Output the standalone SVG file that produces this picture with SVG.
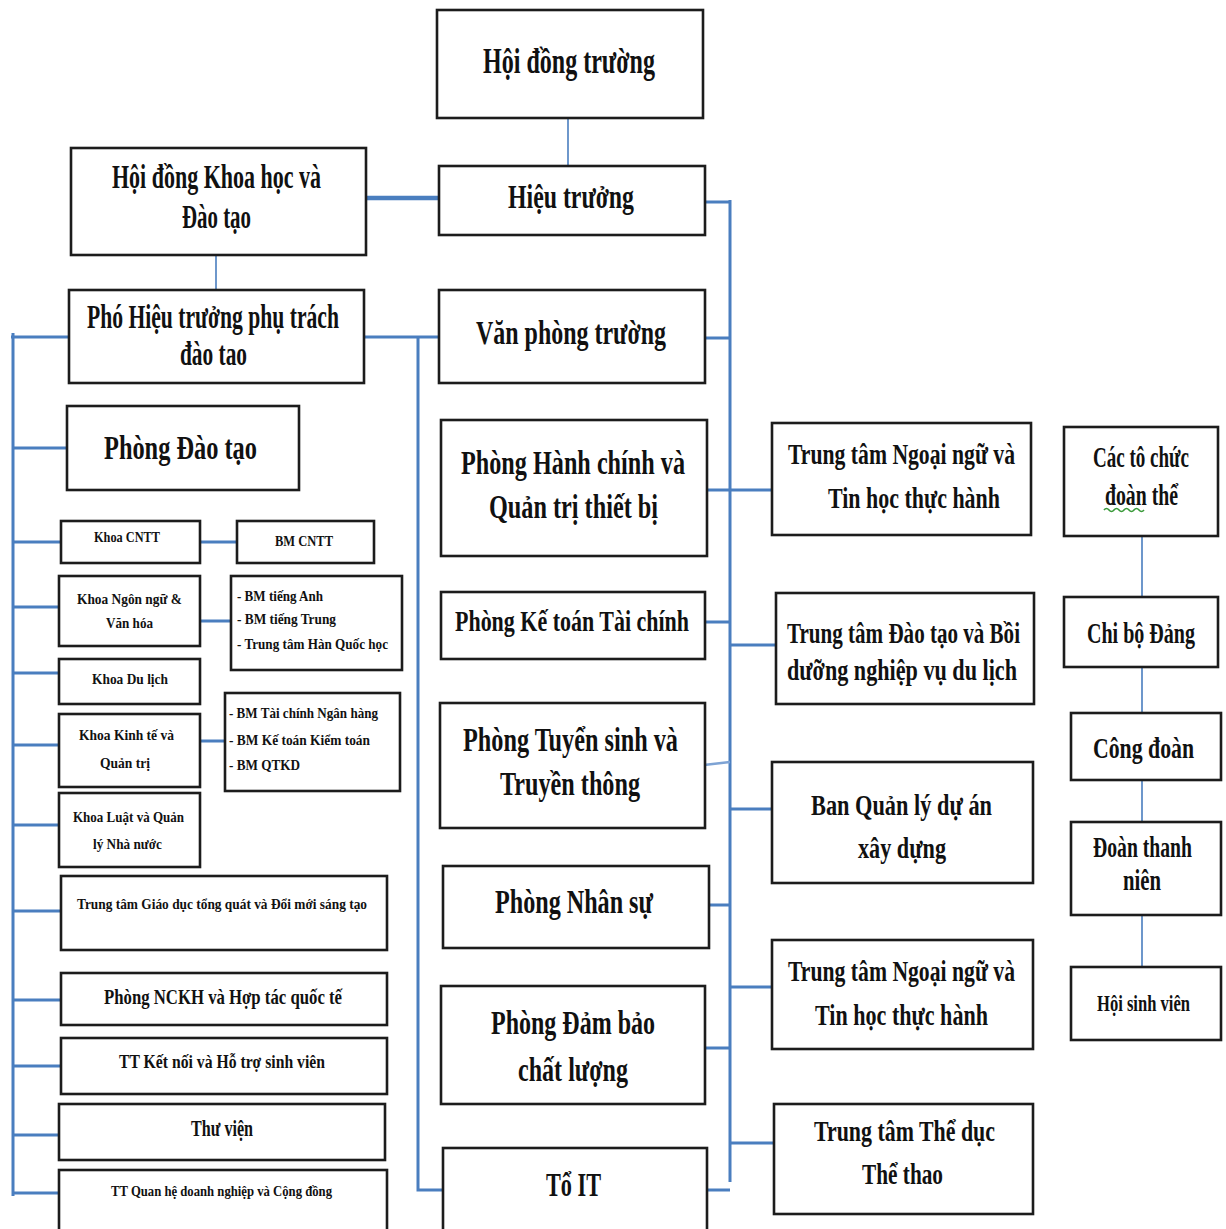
<svg xmlns="http://www.w3.org/2000/svg" width="1226" height="1229" viewBox="0 0 1226 1229">
<style>
.b{fill:#fff;stroke:#1c1c1c;stroke-width:2.6}
.t{font-family:"Liberation Serif","Times New Roman",serif;font-weight:bold;fill:#111}
.X{font-size:24px}
.L{font-size:22.67px}
.M{font-size:20px}
.S{font-size:15px}
.c{fill:none;stroke:#4a7ebf;stroke-width:3;stroke-linecap:butt}
.th{fill:none;stroke:#4a7ebf;stroke-width:1.6}
</style>
<rect width="1226" height="1229" fill="#fff"/>
<g id="connectors">
<line class="th" x1="568" y1="118" x2="568" y2="166"/>
<line class="th" x1="216" y1="255" x2="216" y2="290"/>
<line class="c" x1="362" y1="198" x2="439" y2="198" style="stroke-width:4.5"/>
<path class="c" d="M13 333V1196M11 337H69M13 448H67M13 542H61M13 607H59M13 673H59M13 745H59M13 825H59M13 911H61M13 1000H61M13 1066H61M13 1135H59M13 1193H59"/>
<path class="c" d="M200 542H237M200 621H231M200 741H225"/>
<path class="c" d="M364 337H439M418 337V1190H443"/>
<path class="c" d="M730 200V1182M705 202H730M705 338H730M707 490H772M705 622H730M730 645H776M730 809H772M709 905H730M730 987H772M705 1048H730M730 1143H774M707 1190H730"/>
<path class="c" d="M704 765L730 762" style="stroke:#7ea3d4;stroke-width:2.5"/>
<path class="th" d="M1142 536V597M1142 667V713M1142 780V822M1142 915V967"/>
</g>
<g id="hoi-dong-truong"><rect class="b" x="437" y="10" width="266" height="108"/><text class="t X" transform="translate(483 73) scale(1 1.5)" textLength="172" lengthAdjust="spacingAndGlyphs">Hội đồng trường</text></g>
<g id="hieu-truong"><rect class="b" x="439" y="166" width="266" height="69"/><text class="t L" transform="translate(508 208) scale(1 1.5)" textLength="126" lengthAdjust="spacingAndGlyphs">Hiệu trưởng</text></g>
<g id="hd-khoa-hoc"><rect class="b" x="71" y="148" width="295" height="107"/><text class="t L" transform="translate(112 188) scale(1 1.5)" textLength="209" lengthAdjust="spacingAndGlyphs">Hội đồng Khoa học và</text><text class="t L" transform="translate(182 228) scale(1 1.5)" textLength="69" lengthAdjust="spacingAndGlyphs">Đào tạo</text></g>
<g id="pho-hieu-truong"><rect class="b" x="69" y="290" width="295" height="93"/><text class="t L" transform="translate(87 328) scale(1 1.5)" textLength="252" lengthAdjust="spacingAndGlyphs">Phó Hiệu trưởng phụ trách</text><text class="t L" transform="translate(180 365) scale(1 1.5)" textLength="67" lengthAdjust="spacingAndGlyphs">đào tao</text></g>
<g id="van-phong"><rect class="b" x="439" y="290" width="266" height="93"/><text class="t L" transform="translate(476 344) scale(1 1.5)" textLength="190" lengthAdjust="spacingAndGlyphs">Văn phòng trường</text></g>
<g id="phong-dao-tao"><rect class="b" x="67" y="406" width="232" height="84"/><text class="t L" transform="translate(104 459) scale(1 1.5)" textLength="153" lengthAdjust="spacingAndGlyphs">Phòng Đào tạo</text></g>
<g id="phong-hanh-chinh"><rect class="b" x="441" y="420" width="266" height="136"/><text class="t L" transform="translate(461 474) scale(1 1.5)" textLength="224" lengthAdjust="spacingAndGlyphs">Phòng Hành chính và</text><text class="t L" transform="translate(489 518) scale(1 1.5)" textLength="169" lengthAdjust="spacingAndGlyphs">Quản trị thiết bị</text></g>
<g id="phong-ke-toan"><rect class="b" x="441" y="592" width="264" height="67"/><text class="t M" transform="translate(455 631) scale(1 1.5)" textLength="234" lengthAdjust="spacingAndGlyphs">Phòng Kế toán Tài chính</text></g>
<g id="phong-tuyen-sinh"><rect class="b" x="440" y="703" width="265" height="125"/><text class="t L" transform="translate(463 751) scale(1 1.5)" textLength="215" lengthAdjust="spacingAndGlyphs">Phòng Tuyển sinh và</text><text class="t L" transform="translate(500 795) scale(1 1.5)" textLength="140" lengthAdjust="spacingAndGlyphs">Truyền thông</text></g>
<g id="phong-nhan-su"><rect class="b" x="443" y="866" width="266" height="82"/><text class="t L" transform="translate(495 913) scale(1 1.5)" textLength="158" lengthAdjust="spacingAndGlyphs">Phòng Nhân sự</text></g>
<g id="phong-dam-bao"><rect class="b" x="441" y="986" width="264" height="118"/><text class="t L" transform="translate(491 1034) scale(1 1.5)" textLength="164" lengthAdjust="spacingAndGlyphs">Phòng Đảm bảo</text><text class="t L" transform="translate(518 1081) scale(1 1.5)" textLength="110" lengthAdjust="spacingAndGlyphs">chất lượng</text></g>
<g id="to-it"><rect class="b" x="443" y="1148" width="264" height="95"/><text class="t L" transform="translate(546 1196) scale(1 1.5)" textLength="55" lengthAdjust="spacingAndGlyphs">Tổ IT</text></g>
<g id="tt-ngoai-ngu-1"><rect class="b" x="772" y="423" width="259" height="112"/><text class="t M" transform="translate(788 464) scale(1 1.5)" textLength="227" lengthAdjust="spacingAndGlyphs">Trung tâm Ngoại ngữ và</text><text class="t M" transform="translate(828 508) scale(1 1.5)" textLength="172" lengthAdjust="spacingAndGlyphs">Tin học thực hành</text></g>
<g id="tt-dao-tao-du-lich"><rect class="b" x="776" y="593" width="258" height="111"/><text class="t M" transform="translate(787 643) scale(1 1.5)" textLength="233" lengthAdjust="spacingAndGlyphs">Trung tâm Đào tạo và Bồi</text><text class="t M" transform="translate(787 680) scale(1 1.5)" textLength="230" lengthAdjust="spacingAndGlyphs">dưỡng nghiệp vụ du lịch</text></g>
<g id="ban-quan-ly"><rect class="b" x="772" y="762" width="261" height="121"/><text class="t M" transform="translate(811 815) scale(1 1.5)" textLength="181" lengthAdjust="spacingAndGlyphs">Ban Quản lý dự án</text><text class="t M" transform="translate(858 858) scale(1 1.5)" textLength="88" lengthAdjust="spacingAndGlyphs">xây dựng</text></g>
<g id="tt-ngoai-ngu-2"><rect class="b" x="772" y="940" width="261" height="109"/><text class="t M" transform="translate(788 981) scale(1 1.5)" textLength="227" lengthAdjust="spacingAndGlyphs">Trung tâm Ngoại ngữ và</text><text class="t M" transform="translate(815 1025) scale(1 1.5)" textLength="173" lengthAdjust="spacingAndGlyphs">Tin học thực hành</text></g>
<g id="tt-the-duc"><rect class="b" x="774" y="1104" width="259" height="110"/><text class="t M" transform="translate(814 1141) scale(1 1.5)" textLength="181" lengthAdjust="spacingAndGlyphs">Trung tâm Thể dục</text><text class="t M" transform="translate(862 1184) scale(1 1.5)" textLength="81" lengthAdjust="spacingAndGlyphs">Thể thao</text></g>
<g id="cac-to-chuc"><rect class="b" x="1064" y="427" width="154" height="109"/><text class="t M" transform="translate(1093 467) scale(1 1.5)" textLength="96" lengthAdjust="spacingAndGlyphs">Các tô chức</text><text class="t M" transform="translate(1105 505) scale(1 1.5)" textLength="73" lengthAdjust="spacingAndGlyphs">đoàn thể</text><path d="M1104 510q2.5-3 5 0t5 0t5 0t5 0t5 0t5 0t5 0t5 0" fill="none" stroke="#3a9a3a" stroke-width="1.6"/></g>
<g id="chi-bo"><rect class="b" x="1064" y="597" width="154" height="70"/><text class="t M" transform="translate(1087 643) scale(1 1.5)" textLength="108" lengthAdjust="spacingAndGlyphs">Chi bộ Đảng</text></g>
<g id="cong-doan"><rect class="b" x="1071" y="713" width="150" height="67"/><text class="t M" transform="translate(1093 758) scale(1 1.5)" textLength="101" lengthAdjust="spacingAndGlyphs">Công đoàn</text></g>
<g id="doan-thanh-nien"><rect class="b" x="1071" y="822" width="150" height="93"/><text class="t M" transform="translate(1093 857) scale(1 1.5)" textLength="99" lengthAdjust="spacingAndGlyphs">Đoàn thanh</text><text class="t M" transform="translate(1123 890) scale(1 1.5)" textLength="38" lengthAdjust="spacingAndGlyphs">niên</text></g>
<g id="hoi-sinh-vien"><rect class="b" x="1071" y="967" width="150" height="73"/><text class="t" style="font-size:16px" transform="translate(1097 1011) scale(1 1.5)" textLength="93" lengthAdjust="spacingAndGlyphs">Hội sinh viên</text></g>
<g id="khoa-cntt"><rect class="b" x="61" y="521" width="139" height="42"/><text class="t S" x="94" y="542" textLength="66" lengthAdjust="spacingAndGlyphs">Khoa CNTT</text></g>
<g id="bm-cntt"><rect class="b" x="237" y="521" width="137" height="42"/><text class="t S" x="275" y="546" textLength="58" lengthAdjust="spacingAndGlyphs">BM CNTT</text></g>
<g id="khoa-ngon-ngu"><rect class="b" x="59" y="576" width="141" height="70"/><text class="t S" x="77" y="604" textLength="105" lengthAdjust="spacingAndGlyphs">Khoa Ngôn  ngữ &amp;</text><text class="t S" x="106" y="628" textLength="47" lengthAdjust="spacingAndGlyphs">Văn hóa</text></g>
<g id="bm-ngon-ngu"><rect class="b" x="231" y="576" width="171" height="94"/><text class="t S" x="237" y="601" textLength="86" lengthAdjust="spacingAndGlyphs">- BM tiếng Anh</text><text class="t S" x="237" y="624" textLength="99" lengthAdjust="spacingAndGlyphs">- BM tiếng Trung</text><text class="t S" x="237" y="649" textLength="151" lengthAdjust="spacingAndGlyphs">- Trung tâm Hàn Quốc học</text></g>
<g id="khoa-du-lich"><rect class="b" x="59" y="659" width="141" height="45"/><text class="t S" x="92" y="684" textLength="76" lengthAdjust="spacingAndGlyphs">Khoa Du lịch</text></g>
<g id="khoa-kinh-te"><rect class="b" x="59" y="714" width="141" height="73"/><text class="t S" x="79" y="740" textLength="95" lengthAdjust="spacingAndGlyphs">Khoa Kinh tế và</text><text class="t S" x="100" y="768" textLength="50" lengthAdjust="spacingAndGlyphs">Quản trị</text></g>
<g id="bm-kinh-te"><rect class="b" x="225" y="693" width="175" height="98"/><text class="t S" x="229" y="718" textLength="149" lengthAdjust="spacingAndGlyphs">- BM Tài chính Ngân hàng</text><text class="t S" x="229" y="745" textLength="141" lengthAdjust="spacingAndGlyphs">- BM Kế toán Kiểm toán</text><text class="t S" x="229" y="770" textLength="71" lengthAdjust="spacingAndGlyphs">- BM QTKD</text></g>
<g id="khoa-luat"><rect class="b" x="59" y="793" width="141" height="74"/><text class="t S" x="73" y="822" textLength="111" lengthAdjust="spacingAndGlyphs">Khoa Luật và Quản</text><text class="t S" x="93" y="849" textLength="69" lengthAdjust="spacingAndGlyphs">lý Nhà nước</text></g>
<g id="tt-giao-duc"><rect class="b" x="61" y="876" width="326" height="74"/><text class="t S" x="77" y="909" textLength="290" lengthAdjust="spacingAndGlyphs">Trung tâm Giáo dục tổng quát và Đổi mới sáng tạo</text></g>
<g id="phong-nckh"><rect class="b" x="61" y="973" width="326" height="52"/><text class="t" style="font-size:21px" x="104" y="1004" textLength="238" lengthAdjust="spacingAndGlyphs">Phòng NCKH và Hợp tác quốc tế</text></g>
<g id="tt-ket-noi"><rect class="b" x="61" y="1038" width="326" height="56"/><text class="t" style="font-size:18px" x="119" y="1068" textLength="206" lengthAdjust="spacingAndGlyphs">TT Kết nối và Hỗ trợ sinh viên</text></g>
<g id="thu-vien"><rect class="b" x="59" y="1104" width="326" height="56"/><text class="t" style="font-size:23px" x="191" y="1136" textLength="62" lengthAdjust="spacingAndGlyphs">Thư viện</text></g>
<g id="tt-quan-he"><rect class="b" x="59" y="1170" width="328" height="75"/><text class="t S" x="111" y="1196" textLength="221" lengthAdjust="spacingAndGlyphs">TT Quan hệ doanh nghiệp và Cộng đồng</text></g>
</svg>
